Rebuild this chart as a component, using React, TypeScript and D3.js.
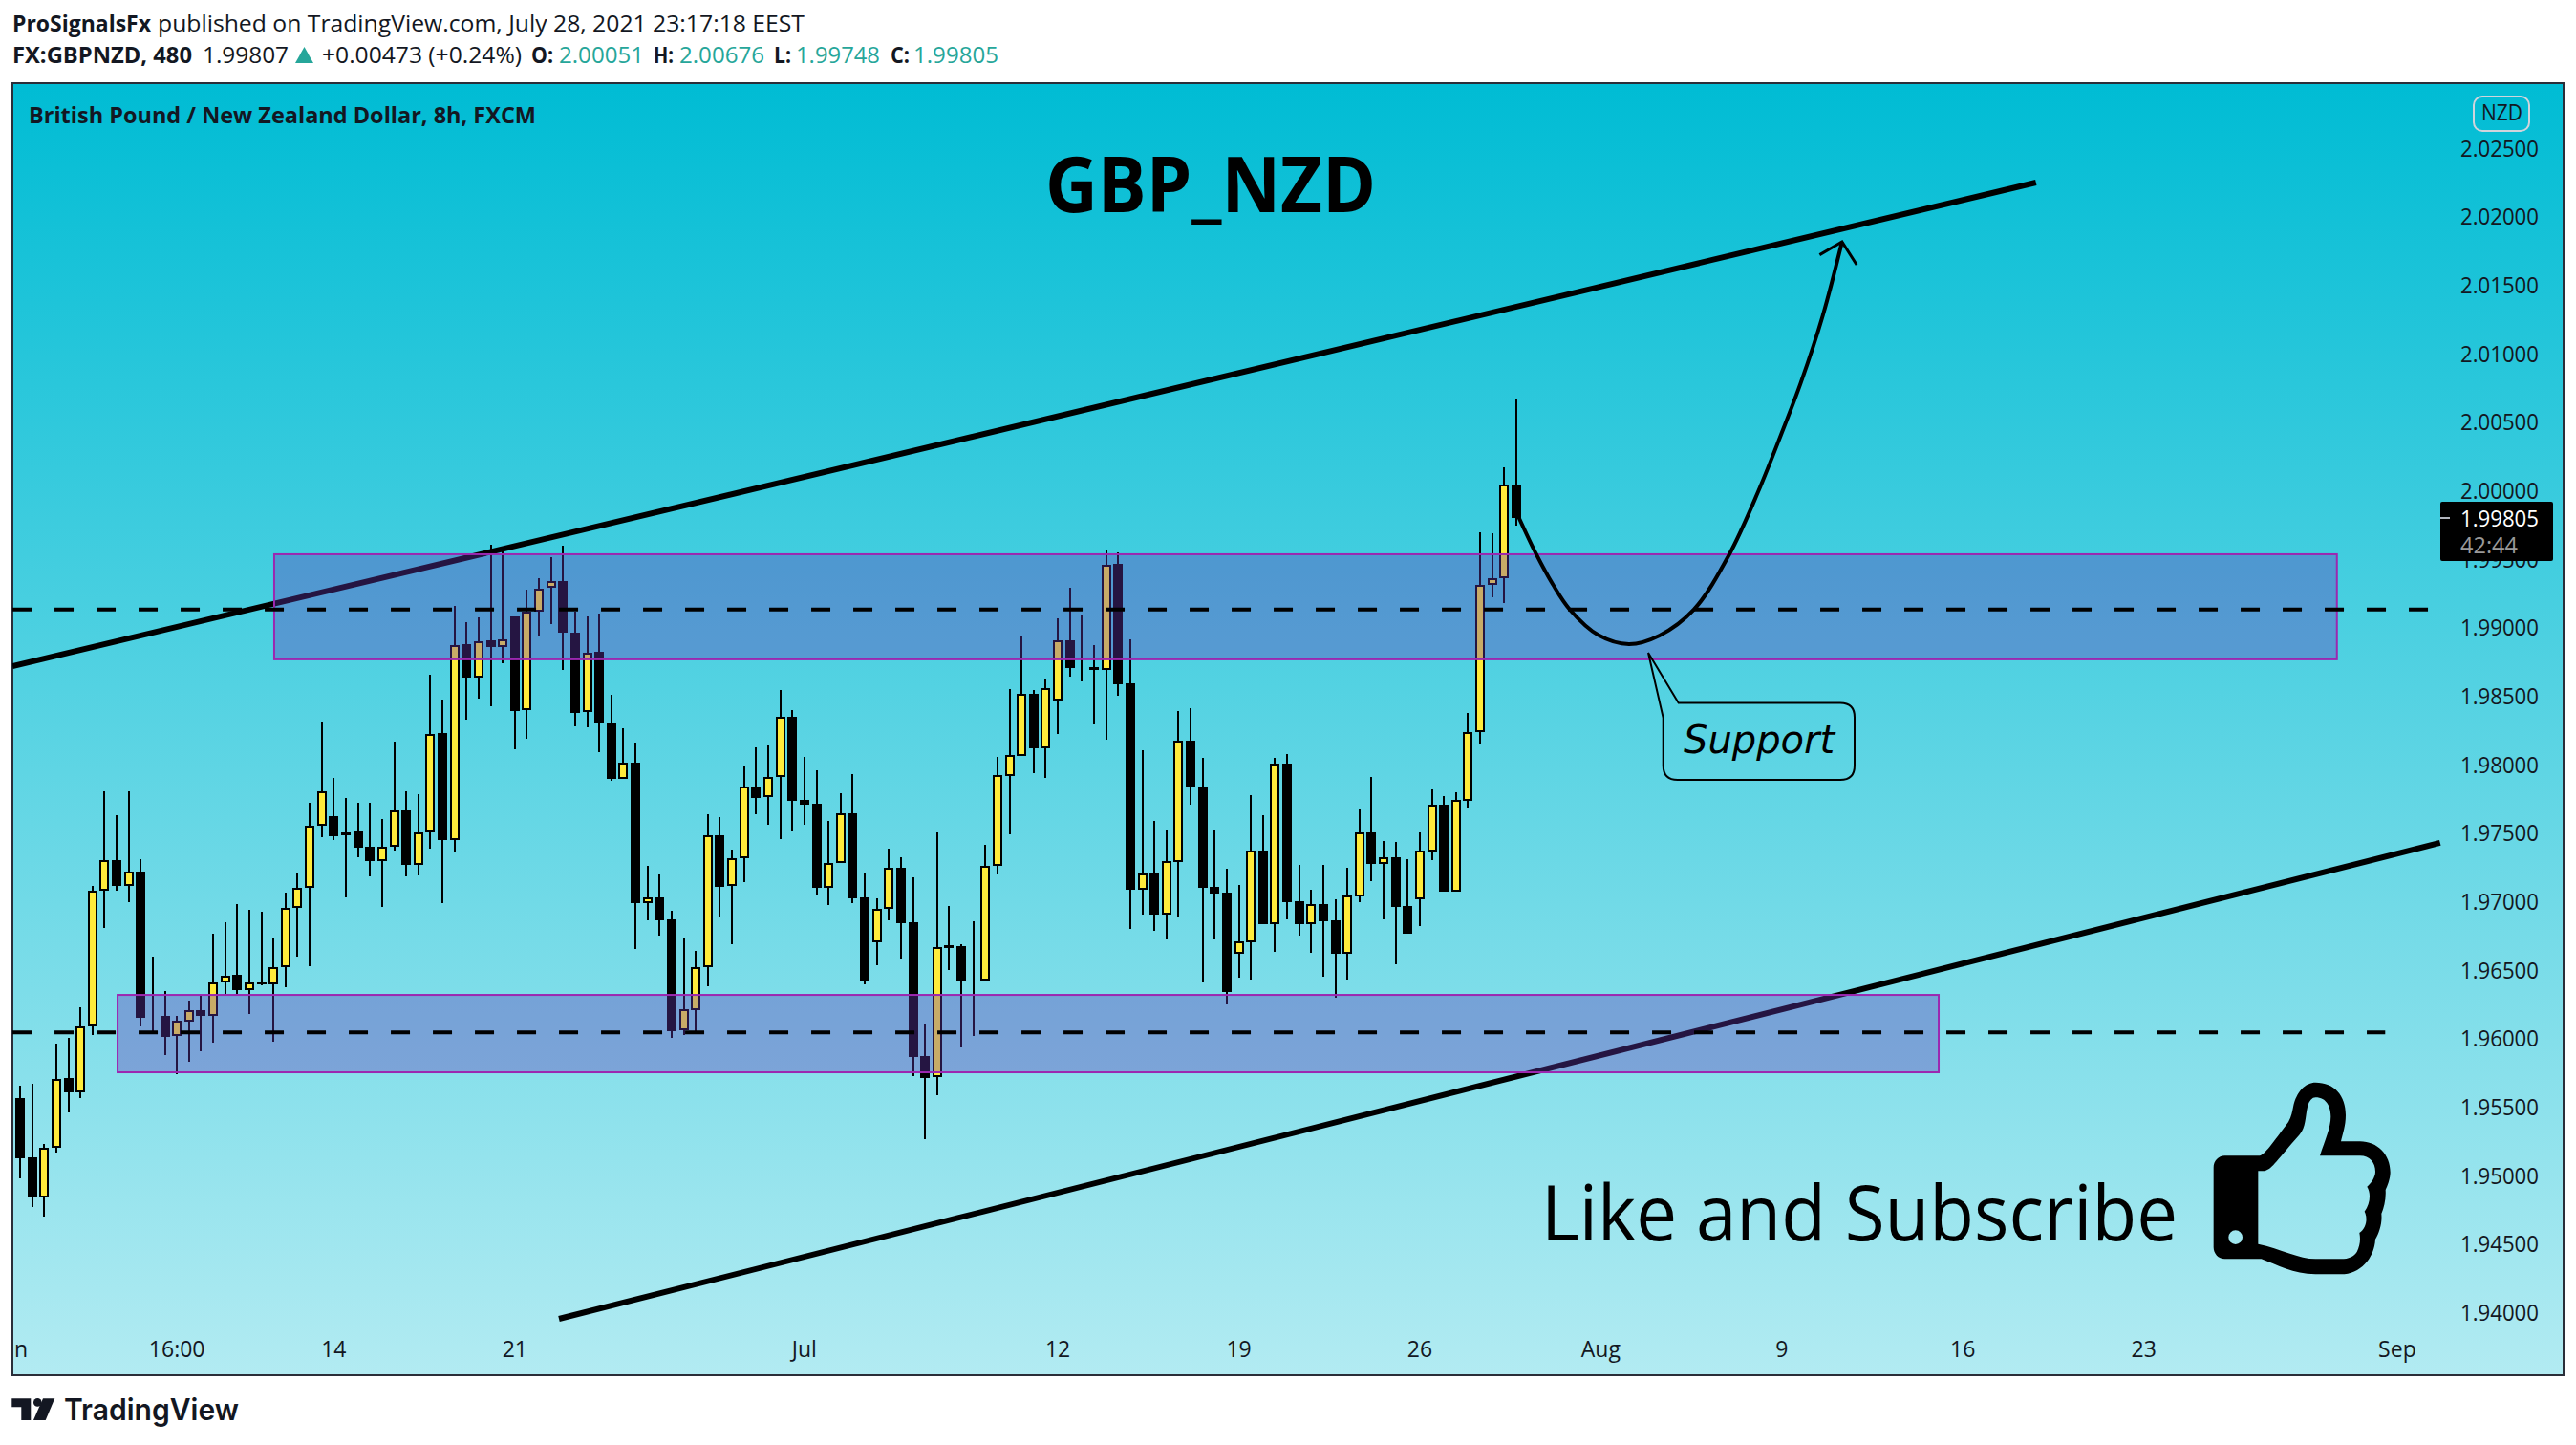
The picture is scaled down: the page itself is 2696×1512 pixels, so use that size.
import React from "react";
import * as d3 from "d3";

const opens = [
  1.95569,1.95138,1.94845,1.95204,1.95714,1.95612,1.96096,1.97081,1.97308,1.9712,
  1.97222,1.96162,1.96169,1.9602,1.96129,1.96211,1.96172,1.96416,1.96468,1.9636,
  1.96416,1.96399,1.96528,1.96956,1.97107,1.97555,1.97627,1.97486,1.97516,1.97404,
  1.97301,1.97407,1.9767,1.97275,1.97506,1.98233,1.97456,1.98882,1.98642,1.98912,
  1.98866,1.99086,1.98402,1.99121,1.99294,1.99341,1.98971,1.98387,1.98825,1.98305,
  1.97897,1.9802,1.96995,1.97037,1.96875,1.96062,1.96215,1.96523,1.97489,1.97116,
  1.97318,1.97844,1.97765,1.97917,1.98355,1.97747,1.97718,1.97107,1.97283,1.9765,
  1.97037,1.96705,1.96949,1.97251,1.96855,1.95877,1.95721,1.96684,1.96678,1.96429,
  1.96426,1.97263,1.97923,1.9807,1.98522,1.98123,1.98469,1.98909,1.98718,1.98714,
  1.98697,1.99467,1.98595,1.97092,1.97209,1.96911,1.97295,1.98179,1.97844,1.97111,
  1.97069,1.96625,1.96709,1.97376,1.96841,1.98011,1.97006,1.96841,1.96985,1.96867,
  1.96625,1.97044,1.97509,1.97281,1.97327,1.96972,1.97023,1.97372,1.97711,1.97079,
  1.97742,1.98239,1.99313,1.99365,2.00051,
];
const highs = [
  1.95662,1.95675,1.95233,1.95968,1.96007,1.96231,1.97117,1.97809,1.97634,1.97809,
  1.97315,1.96603,1.9635,1.96172,1.96281,1.9632,1.96768,1.96854,1.96985,1.96942,
  1.96929,1.96742,1.97071,1.97216,1.97726,1.98319,1.97907,1.97759,1.97726,1.97726,
  1.97608,1.98171,1.97809,1.97789,1.98661,1.9848,1.99162,1.99043,1.9908,1.9961,
  1.9956,1.99086,1.99283,1.99365,1.99518,1.996,1.99121,1.99083,1.99106,1.98513,
  1.9827,1.98164,1.97266,1.97204,1.96937,1.96734,1.96646,1.97641,1.97621,1.97383,
  1.97991,1.98132,1.98143,1.98549,1.98402,1.98061,1.97964,1.97594,1.97797,1.97935,
  1.9721,1.97028,1.97392,1.97327,1.9718,1.96115,1.97509,1.96972,1.96693,1.9686,
  1.97418,1.98061,1.98557,1.98948,1.98549,1.98634,1.99072,1.99295,1.99093,1.98877,
  1.99574,1.99551,1.98918,1.98109,1.97593,1.9753,1.98395,1.98416,1.98053,1.9753,
  1.97244,1.97125,1.97781,1.97634,1.98053,1.98081,1.97272,1.9709,1.97272,1.9702,
  1.97251,1.97676,1.97914,1.97446,1.97439,1.97313,1.97509,1.97823,1.97774,1.97802,
  1.98381,1.99701,1.99695,2.00176,2.00676,
];
const lows = [
  1.94983,1.94772,1.94707,1.95174,1.95464,1.95569,1.9603,1.96811,1.97084,1.96999,
  1.9609,1.96057,1.95882,1.95744,1.95833,1.95912,1.95974,1.96327,1.96327,1.96182,
  1.96393,1.95984,1.96379,1.96603,1.96531,1.97473,1.97453,1.97035,1.97328,1.9719,
  1.96966,1.97377,1.9719,1.97196,1.9739,1.96992,1.97371,1.98332,1.98487,1.98431,
  1.98744,1.98115,1.98196,1.98942,1.9903,1.98695,1.98284,1.98276,1.98096,1.97885,
  1.97897,1.96658,1.96869,1.96758,1.96009,1.9603,1.96059,1.96388,1.96896,1.96693,
  1.97148,1.97641,1.97565,1.97462,1.97518,1.97565,1.97048,1.96981,1.97283,1.96993,
  1.96399,1.9654,1.96869,1.9659,1.9573,1.95272,1.95592,1.96505,1.95941,1.96024,
  1.96426,1.97204,1.97495,1.9807,1.97941,1.97909,1.98228,1.98646,1.98611,1.98297,
  1.98186,1.98507,1.96804,1.96909,1.9679,1.96727,1.96895,1.97711,1.96413,1.96727,
  1.96253,1.96448,1.96434,1.96839,1.96637,1.96874,1.96755,1.9663,1.96455,1.96302,
  1.96434,1.96999,1.97153,1.96874,1.96546,1.96769,1.96825,1.97306,1.97076,1.97079,
  1.9769,1.98157,1.99226,1.99183,1.99748,
];
const closes = [
  1.95128,1.94845,1.95207,1.95711,1.95612,1.96096,1.97084,1.97308,1.97117,1.97222,
  1.96155,1.96162,1.96017,1.96132,1.96211,1.96169,1.96416,1.96465,1.96356,1.96416,
  1.96402,1.96528,1.96956,1.97107,1.97555,1.97812,1.97483,1.97512,1.97397,1.97298,
  1.97407,1.97667,1.97272,1.97506,1.9823,1.97453,1.98879,1.98638,1.98908,1.98862,
  1.98922,1.98395,1.99121,1.99291,1.99341,1.98971,1.98384,1.98822,1.98302,1.97897,
  1.98017,1.96993,1.97034,1.96869,1.96059,1.96217,1.96523,1.97486,1.97113,1.97318,
  1.97841,1.97762,1.97917,1.98352,1.97741,1.97712,1.97104,1.97283,1.97647,1.97028,
  1.96429,1.96949,1.97248,1.96846,1.95871,1.95718,1.96675,1.96667,1.96429,1.96429,
  1.97263,1.97926,1.98073,1.98519,1.98123,1.98566,1.98909,1.98709,1.98709,1.98697,
  1.99465,1.98593,1.9709,1.97206,1.96909,1.97297,1.98176,1.97837,1.97104,1.97062,
  1.96343,1.96711,1.97374,1.96839,1.98009,1.96999,1.96839,1.96983,1.9686,1.96623,
  1.97046,1.97507,1.97279,1.97325,1.96965,1.96769,1.97374,1.97709,1.97076,1.97744,
  1.98239,1.99313,1.99362,2.00046,1.99805,
];

const priceTicks = [2.025,2.02,2.015,2.01,2.005,2.0,1.995,1.99,1.985,1.98,1.975,1.97,1.965,1.96,1.955,1.95,1.945,1.94];
const timeTickLabels = ["16:00","14","21","Jul","12","19","26","Aug","9","16","23","Sep"];
const timeTickIndex = [13,26,41,65,86,101,116,131,146,161,176,197];

const upperChannel = [[-0.63,1.98723],[167.06,2.02254]];
const lowerChannel = [[44.66,1.93958],[200.55,1.97433]];
const upperZone = { from: 21.06, to: 192, top: 1.9954, bottom: 1.98773 };
const lowerZone = { from: 8.08, to: 159, top: 1.96323, bottom: 1.95758 };
const resistanceLevel = { price: 1.99137, from: -0.63, to: 200 };
const supportLevel = { price: 1.9605, from: -0.63, to: 196 };
const forecastPath = [
  [124.15,1.99819],[125.65,1.9954],[127,1.99323],[128.42,1.99137],[130.8,1.9895],[133.33,1.98884],[135.87,1.98947],
  [138.72,1.99137],[141.65,1.9954],[144.02,1.99993],[145.93,2.00412],[147.59,2.00796],[149.4,2.01284],[150.99,2.01821],
];
const forecastHead = [[149.13,2.01726],[150.99,2.01821],[152.2,2.01654]];

const W = 2696, H = 1512;
const L = 13, T = 87, R = 2683, B = 1439;
const FONT = "'Open Sans','Noto Sans',sans-serif";
const INK = "#131722";
const TEAL = "#26A69A";

const x = d3.scaleLinear().domain([0,124]).range([21,1587]);
const y = d3.scaleLinear().domain([2.025,1.94]).range([155.7,1374]);
const line = d3.line<number[]>().x(d => x(d[0])).y(d => y(d[1]));
const curve = d3.line<number[]>().x(d => x(d[0])).y(d => y(d[1])).curve(d3.curveCatmullRom.alpha(0.5));

function T2({ x: px, y: py, w, size = 23, weight = 400, fill = INK, children, family = FONT }: any) {
  return <text x={px} y={py} textLength={w} lengthAdjust="spacingAndGlyphs" fontSize={size} fontWeight={weight} fill={fill} fontFamily={family}>{children}</text>;
}

export default function App() {
  const bodyW = 10, stroke = 2;
  return (
    <svg width={W} height={H} viewBox={`0 0 ${W} ${H}`} style={{ position: "absolute", left: 0, top: 0, display: "block", background: "#fff" }}>
      <defs>
        <linearGradient id="bg" x1="0" y1="0" x2="0" y2="1">
          <stop offset="0" stopColor="#00BCD4" />
          <stop offset="1" stopColor="#B2EBF2" />
        </linearGradient>
        <clipPath id="plot"><rect x={L} y={T} width={R - L} height={B - T} /></clipPath>
      </defs>

      <T2 x={13} y={33} w={145} weight={700}>ProSignalsFx</T2>
      <T2 x={165} y={33} w={677}>published on TradingView.com, July 28, 2021 23:17:18 EEST</T2>
      <T2 x={13} y={66} w={188} weight={700}>FX:GBPNZD, 480</T2>
      <T2 x={212} y={66} w={90}>1.99807</T2>
      <path d="M318.5 49 L328 66 L309 66 Z" fill={TEAL} />
      <T2 x={337} y={66} w={209}>+0.00473 (+0.24%)</T2>
      <T2 x={556} y={66} w={23} weight={700}>O:</T2>
      <T2 x={585} y={66} w={89} fill={TEAL}>2.00051</T2>
      <T2 x={684} y={66} w={21} weight={700}>H:</T2>
      <T2 x={711} y={66} w={89} fill={TEAL}>2.00676</T2>
      <T2 x={810} y={66} w={18} weight={700}>L:</T2>
      <T2 x={833} y={66} w={88} fill={TEAL}>1.99748</T2>
      <T2 x={932} y={66} w={20} weight={700}>C:</T2>
      <T2 x={956} y={66} w={89} fill={TEAL}>1.99805</T2>

      <rect x={L} y={T} width={R - L} height={B - T} fill="url(#bg)" stroke="#2A2E39" strokeWidth={2} />

      <g clipPath="url(#plot)">
        <T2 x={30} y={129} w={531} weight={700}>British Pound / New Zealand Dollar, 8h, FXCM</T2>

        <g shapeRendering="crispEdges">
          {opens.map((o, i) => {
            const c = closes[i];
            const up = c > o;
            const cx = Math.round(x(i));
            const top = y(Math.max(o, c));
            const bot = y(Math.min(o, c));
            return (
              <g key={i}>
                <rect x={cx - 1} y={y(highs[i])} width={2} height={Math.max(0, y(lows[i]) - y(highs[i]))} fill="#000" />
                <rect
                  x={cx - bodyW / 2 + stroke / 2}
                  y={top + stroke / 2}
                  width={bodyW - stroke}
                  height={Math.max(0, bot - top - stroke)}
                  fill={up ? "#FFEB3B" : "#000"}
                  stroke="#000"
                  strokeWidth={stroke}
                />
              </g>
            );
          })}
        </g>

        <path d={line(upperChannel)!} stroke="#000" strokeWidth={6} fill="none" />
        <path d={line(lowerChannel)!} stroke="#000" strokeWidth={6} fill="none" />

        {[upperZone, lowerZone].map((z, i) => (
          <rect key={i} x={x(z.from)} y={y(z.top)} width={x(z.to) - x(z.from)} height={y(z.bottom) - y(z.top)}
            fill="#673AB7" fillOpacity={0.36} stroke="#9C27B0" strokeWidth={2} />
        ))}

        {[resistanceLevel, supportLevel].map((l, i) => (
          <line key={i} x1={x(l.from)} x2={x(l.to)} y1={y(l.price)} y2={y(l.price)} stroke="#000" strokeWidth={4} strokeDasharray="20 24" />
        ))}

        <path d={curve(forecastPath)!} stroke="#000" strokeWidth={4} fill="none" />
        <path d={line(forecastHead)!} stroke="#000" strokeWidth={3} fill="none" />

        <path d="M1725 683 L1756.7 735.6 L1926 735.6 Q1941 735.6 1941 750.6 L1941 801 Q1941 816 1926 816 L1755.7 816 Q1740.7 816 1740.7 801 L1740.7 751 Z" fill="none" stroke="#000" strokeWidth={2} />
        <text x={1762} y={788} fontFamily="'DejaVu Sans'" fontStyle="italic" fontSize={40} fill="#000">Support</text>

        <T2 x={1094} y={222} w={346} size={81} weight={700} fill="#000">GBP_NZD</T2>
        <T2 x={1613} y={1298} w={666} size={81} fill="#000">Like and Subscribe</T2>

        <g transform="translate(2250,1100) scale(0.33333)">
          <path fillRule="evenodd" fill="#000" d="M200 365 C200 345 215 328 235 328 L345 328 C360 322 370 310 435 222 C445 205 447 190 450 175 C460 125 490 98 520 98 C580 98 615 140 615 200 C615 235 605 260 600 283 L660 283 C715 283 755 325 755 380 C755 400 745 425 740 435 C742 465 735 490 727 510 C730 540 720 570 708 590 C705 650 660 700 600 700 L520 700 C450 700 400 670 350 652 L235 652 C215 652 200 635 200 615 Z
          M340 376 L360 376 C385 370 400 340 470 262 C490 240 488 205 495 175 C500 155 510 145 520 145 C555 145 568 175 568 205 C568 240 550 280 534 328 L660 328 C690 328 708 350 708 378 C708 395 695 415 682 425 C695 445 692 480 674 503 C685 525 680 555 658 570 C662 590 660 610 650 630 C640 645 625 652 600 652 L520 652 C470 652 410 620 340 605 Z
          M291 584 A22 22 0 1 0 247 584 A22 22 0 1 0 291 584 Z" />
        </g>

        {priceTicks.map(p => (
          <text key={p} x={2575} y={y(p) + 8} textLength={82} lengthAdjust="spacingAndGlyphs" fontSize={23} fontFamily={FONT} fill={INK}>{p.toFixed(5)}</text>
        ))}

        <text x={15} y={1420} fontSize={23} fontFamily={FONT} fill={INK}>n</text>
        {timeTickLabels.map((t, i) => (
          <text key={t + i} x={x(timeTickIndex[i])} y={1420} textAnchor="middle" fontSize={23} fontFamily={FONT} fill={INK}>{t}</text>
        ))}

        <rect x={2589} y={101} width={58} height={36} rx={9} fill="none" stroke="#D1D4DC" strokeWidth={2} />
        <text x={2597} y={126} textLength={43} lengthAdjust="spacingAndGlyphs" fontSize={23} fontFamily={FONT} fill={INK}>NZD</text>

        <rect x={2554} y={525} width={118} height={62} rx={2} fill="#000" />
        <rect x={2554} y={541} width={10} height={2} fill="#B2B5BE" />
        <text x={2575} y={551} textLength={82} lengthAdjust="spacingAndGlyphs" fontSize={23} fontFamily={FONT} fill="#fff">1.99805</text>
        <text x={2575} y={579} textLength={60} lengthAdjust="spacingAndGlyphs" fontSize={23} fontFamily={FONT} fill="#9A9A9A">42:44</text>
      </g>

      <g fill={INK}>
        <path d="M12.3 1463.3 H32.3 V1486 H22.3 V1472.3 H12.3 Z" />
        <circle cx={39.3} cy={1467.4} r={4.3} />
        <path d="M45 1463.3 H57.3 L47.7 1486 H35 Z" />
      </g>
      <T2 x={67} y={1486} w={183} size={31} weight={600} family="Inter,'Open Sans',sans-serif">TradingView</T2>
    </svg>
  );
}
